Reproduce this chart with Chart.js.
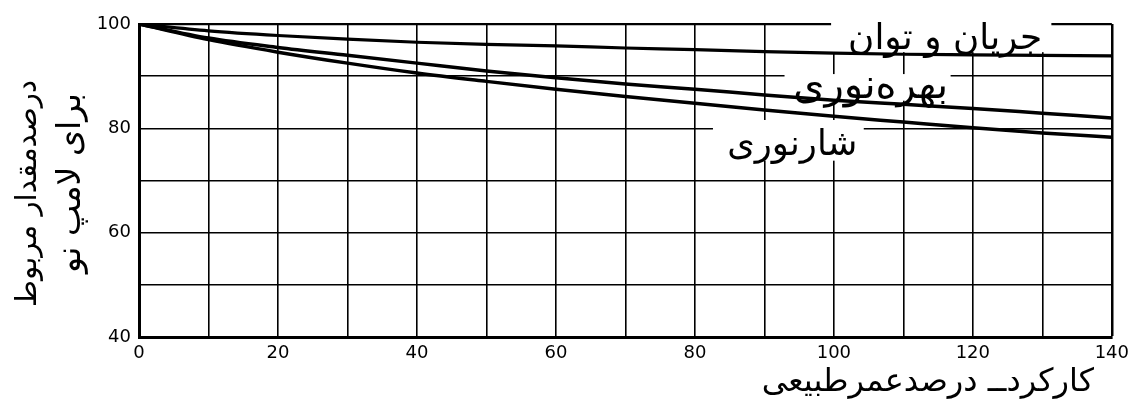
<!DOCTYPE html>
<html><head><meta charset="utf-8">
<script src="https://cdn.jsdelivr.net/npm/chart.js@4.4.0/dist/chart.umd.min.js"></script>
<style>html,body{margin:0;padding:0;background:#fff;}canvas{display:block;}</style>
</head><body>
<canvas id="c" width="1135" height="406"></canvas>
<script>
// ---- data ----
const xValues      = [0, 10, 20, 30, 40, 50, 60, 70, 80, 90, 100, 110, 120, 130, 140];
const currentPower = [100, 98.7, 97.8, 97.1, 96.5, 96.1, 95.8, 95.4, 95.1, 94.7, 94.4, 94.2, 94.1, 94.0, 93.9];
const efficacy     = [100, 97.3, 95.5, 94.0, 92.5, 91.0, 89.7, 88.5, 87.5, 86.4, 85.4, 84.6, 83.8, 82.9, 82.0];
const flux         = [100, 97.0, 94.6, 92.5, 90.6, 89.0, 87.5, 86.1, 84.8, 83.5, 82.3, 81.2, 80.1, 79.1, 78.3];
const xTickLabels  = [0, 20, 40, 60, 80, 100, 120, 140];
const yTickLabels  = [40, 60, 80, 100];
const seriesNames  = ['جریان و توان', 'بهره‌نوری', 'شارنوری'];
const yTitleLines  = ['درصدمقدار مربوط', 'برای لامپ نو'];
const xTitle       = 'کارکردــ درصدعمرطبیعی';

const FONT = '"DejaVu Sans", sans-serif';

// label placement (data units): white box [x0,x1,yTop,yBottom], text centre, text width px
const curveLabels = [
  { text: seriesNames[0], box: [99.6, 131.3, 101.2, 94.6], at: [116.0, 97.0], w: 194 },
  { text: seriesNames[1], box: [92.9, 116.8, 90.4, 85.3],  at: [105.3, 87.9], w: 155 },
  { text: seriesNames[2], box: [82.6, 104.3, 81.6, 73.8],  at: [94.0, 76.6],  w: 130 }
];

function pts(arr) { return xValues.map((x, i) => ({ x: x, y: arr[i] })); }

function drawFit(ctx, text, cx, cy, target) {
  ctx.font = '24px ' + FONT;
  const m = ctx.measureText(text).width;
  const size = 24 * target / m;
  ctx.font = size.toFixed(2) + 'px ' + FONT;
  ctx.direction = 'rtl';
  ctx.textAlign = 'center';
  ctx.textBaseline = 'middle';
  ctx.fillStyle = '#000';
  ctx.fillText(text, cx, cy);
}

const overlay = {
  id: 'overlay',
  beforeDatasetsDraw(chart) {
    const ctx = chart.ctx, xs = chart.scales.x, ys = chart.scales.y;
    ctx.save();
    curveLabels.forEach(l => {
      const x0 = xs.getPixelForValue(l.box[0]), x1 = xs.getPixelForValue(l.box[1]);
      const y0 = ys.getPixelForValue(l.box[2]), y1 = ys.getPixelForValue(l.box[3]);
      ctx.fillStyle = '#fff';
      ctx.fillRect(x0, y0, x1 - x0, y1 - y0);
      drawFit(ctx, l.text, xs.getPixelForValue(l.at[0]), ys.getPixelForValue(l.at[1]), l.w);
    });
    ctx.restore();
  },
  afterDraw(chart) {
    const ctx = chart.ctx;
    ctx.save();
    // y-axis title (rotated, two lines)
    [[28.5, 193.5, 227], [71, 183, 180]].forEach((p, i) => {
      ctx.save();
      ctx.translate(p[0], p[1]);
      ctx.rotate(-Math.PI / 2);
      drawFit(ctx, yTitleLines[i], 0, 0, p[2]);
      ctx.restore();
    });
    // x-axis title
    ctx.font = '32px ' + FONT;
    ctx.direction = 'rtl';
    ctx.textAlign = 'right';
    ctx.textBaseline = 'middle';
    ctx.fillStyle = '#000';
    ctx.fillText(xTitle, 1094, 383);
    ctx.restore();
  }
};

const lineStyle = { borderColor: '#000', borderWidth: 3.5, pointRadius: 0, fill: false, cubicInterpolationMode: 'monotone' };

new Chart(document.getElementById('c'), {
  type: 'line',
  data: {
    datasets: [
      Object.assign({ label: seriesNames[0], data: pts(currentPower) }, lineStyle, { borderWidth: 3.2 }),
      Object.assign({ label: seriesNames[1], data: pts(efficacy) }, lineStyle),
      Object.assign({ label: seriesNames[2], data: pts(flux) }, lineStyle)
    ]
  },
  options: {
    responsive: false,
    animation: false,
    devicePixelRatio: 1,
    layout: { padding: { left: 0, right: 23, top: 24, bottom: 0 } },
    plugins: { legend: { display: false }, tooltip: { enabled: false } },
    scales: {
      x: {
        type: 'linear', min: 0, max: 140,
        afterFit: s => { s.height = 69; },
        ticks: {
          stepSize: 10, autoSkip: false, maxRotation: 0, padding: 6,
          color: '#000', font: { family: FONT, size: 18 },
          callback: v => xTickLabels.includes(v) ? String(v) : ''
        },
        grid: { color: '#000', drawTicks: false, lineWidth: c => c.tick && c.tick.value === 140 ? 2.5 : 1.6 },
        border: { display: true, color: '#000', width: 3 }
      },
      y: {
        type: 'linear', min: 40, max: 100,
        afterFit: s => { s.width = 139; },
        ticks: {
          stepSize: 10, autoSkip: false, padding: 8,
          color: '#000', font: { family: FONT, size: 18 },
          callback: v => yTickLabels.includes(v) ? String(v) : ''
        },
        grid: { color: '#000', drawTicks: false, lineWidth: c => c.tick && c.tick.value === 100 ? 2.2 : 1.6 },
        border: { display: true, color: '#000', width: 3 }
      }
    }
  },
  plugins: [overlay]
});
</script>
</body></html>
